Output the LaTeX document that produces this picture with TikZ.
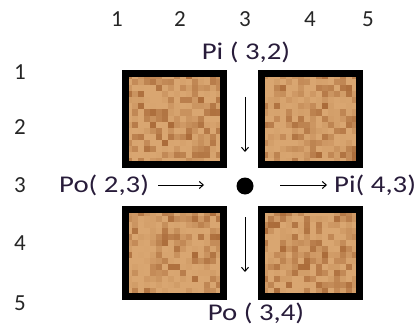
\documentclass[tikz,border=0pt]{standalone}
\usepackage{fontspec}
\setmainfont{Carlito}
\newfontfamily\widefont[FakeStretch=1.2]{Carlito}
\usetikzlibrary{arrows.meta}
\definecolor{corklight}{RGB}{236,190,136}
\definecolor{corkdark}{RGB}{150,82,34}
\definecolor{cork}{RGB}{205,146,90}
\definecolor{ink}{RGB}{40,28,58}
\tikzset{
  lbl/.style={font=\widefont\fontsize{24}{26}\selectfont, text=ink, inner sep=0pt},
  num/.style={font=\fontsize{23}{25}\selectfont, text=black!85, inner sep=0pt},
  corkbox/.style={draw=black, line width=7pt, fill=cork, inner sep=0pt,
    minimum width=98pt,
    path picture={
      \foreach \i in {0,...,17}{
        \foreach \j in {0,...,16}{
          \pgfmathtruncatemacro\r{22+55*rnd^3}
          \fill[corkdark!\r!corklight]
            ([shift={(\i*6,\j*6)}]path picture bounding box.north west) rectangle +(6,6);
        }
      }
    }},
  arr/.style={-{Straight Barb[length=4pt,width=7pt]}, line width=1pt, black},
}
\begin{document}
\begin{tikzpicture}[x=1pt,y=-1pt]
\pgfmathsetseed{17}
\useasboundingbox (0,0) rectangle (417,326);
% column numbers
\node[num] (c1) at (117,19) {1};
\node[num] (c2) at (180,19) {2};
\node[num] (c3) at (245,19) {3};
\node[num] (c4) at (310,19) {4};
\node[num] (c5) at (368,19) {5};
% row numbers
\node[num] (r1) at (20,72) {1};
\node[num] (r2) at (20,127) {2};
\node[num] (r3) at (20,185) {3};
\node[num] (r4) at (20,243) {4};
\node[num] (r5) at (20,303) {5};
% boxes
\node[corkbox, minimum height=91pt] (tl) at (174.5,119) {};
\node[corkbox, minimum height=91pt] (tr) at (310.5,119) {};
\node[corkbox, minimum height=87pt] (bl) at (174.5,253) {};
\node[corkbox, minimum height=87pt] (br) at (310.5,253) {};
% labels
\node[lbl] (pi32) at (246,52) {Pi ( 3,2)};
\node[lbl] (po34) at (256,313) {Po ( 3,4)};
\node[lbl, anchor=west] (po23) at (59,185) {Po( 2,3)};
\node[lbl, anchor=west] (pi43) at (334,185) {Pi( 4,3)};
% centre dot
\node[circle, fill=black, minimum size=17pt, inner sep=0pt] (dot) at (245,186) {};
% arrow coordinates
\coordinate (a1s) at (245,97);
\coordinate (a1e) at (245,152);
\coordinate (a2s) at (245,217);
\coordinate (a2e) at (245,272);
\coordinate (hls) at (158,185);
\coordinate (hle) at (204,185);
\coordinate (hrs) at (280,185);
\coordinate (hre) at (327,185);
\draw[arr] (a1s) -- (a1e);
\draw[arr] (a2s) -- (a2e);
\draw[arr] (hls) -- (hle);
\draw[arr] (hrs) -- (hre);
\end{tikzpicture}
\end{document}
